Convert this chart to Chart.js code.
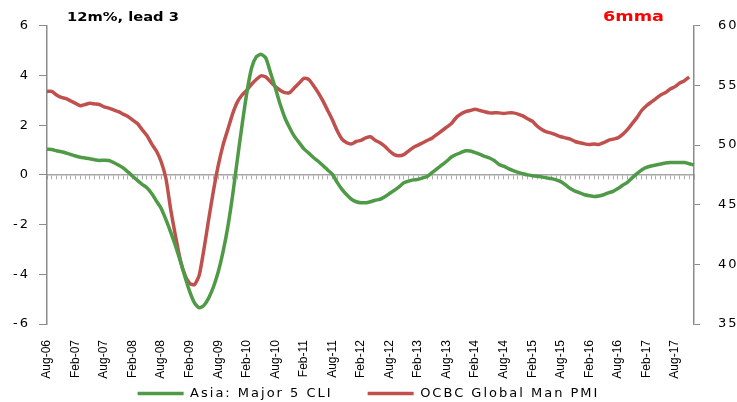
<!DOCTYPE html>
<html>
<head>
<meta charset="utf-8">
<script src="https://cdn.jsdelivr.net/npm/chart.js@4/dist/chart.umd.min.js"></script>
<style>
  html, body { margin: 0; padding: 0; background: #fff; }
  #wrap { position: relative; width: 737px; height: 402px; overflow: hidden; }
  .note { position: absolute; font-family: "DejaVu Sans", Verdana, sans-serif; font-weight: bold; white-space: nowrap; transform-origin: 0 0; }
  #lead { left: 67px; top: 9px; font-size: 13px; transform: scaleX(1.13); color: #000; }
  #mma { left: 603px; top: 8px; font-size: 14px; transform: scaleX(1.26); color: #ff0000; }
</style>
</head>
<body>
<div id="wrap">
  <canvas id="chart" width="737" height="402"></canvas>
  <div class="note" id="lead">12m%, lead 3</div>
  <div class="note" id="mma">6mma</div>
</div>
<script>
// months Aug-06 .. Dec-17
const monthNames = ['Jan','Feb','Mar','Apr','May','Jun','Jul','Aug','Sep','Oct','Nov','Dec'];
const categories = [];
for (let i = 0; i < 137; i++) {
  const m = (7 + i) % 12;
  const yr = 6 + Math.floor((7 + i) / 12);
  categories.push(monthNames[m] + '-' + String(yr).padStart(2, '0'));
}

const xTickLabels = ['Aug-06','Feb-07','Aug-07','Feb-08','Aug-08','Feb-09','Aug-09','Feb-10','Aug-10',
  'Feb-11','Aug-11','Feb-12','Aug-12','Feb-13','Aug-13','Feb-14','Aug-14','Feb-15','Aug-15',
  'Feb-16','Aug-16','Feb-17','Aug-17'];

// Asia: Major 5 CLI (left axis)
const asiaCli = [
  1.03, 1.02, 0.97, 0.93, 0.88, 0.82, 0.76, 0.71, 0.68, 0.65,
  0.61, 0.58, 0.59, 0.58, 0.50, 0.40, 0.28, 0.12, -0.05, -0.22,
  -0.38, -0.52, -0.75, -1.05, -1.35, -1.8, -2.3, -2.85, -3.45, -4.1,
  -4.7, -5.15, -5.35, -5.25, -4.95, -4.5, -3.9, -3.1, -2.1, -0.85,
  0.6, 2.0, 3.3, 4.3, 4.75, 4.85, 4.7, 4.1, 3.5, 2.85,
  2.3, 1.9, 1.55, 1.3, 1.05, 0.88, 0.7, 0.55, 0.38, 0.2,
  0.02, -0.3, -0.58, -0.8, -0.98, -1.08, -1.12, -1.12, -1.08, -1.02,
  -0.98, -0.88, -0.75, -0.62, -0.48, -0.32, -0.25, -0.2, -0.18, -0.12,
  -0.05, 0.1, 0.25, 0.4, 0.55, 0.72, 0.82, 0.9, 0.97, 0.96,
  0.9, 0.83, 0.75, 0.68, 0.58, 0.42, 0.35, 0.25, 0.17, 0.1,
  0.05, 0.0, -0.03, -0.05, -0.08, -0.12, -0.15, -0.2, -0.27, -0.4,
  -0.55, -0.65, -0.72, -0.8, -0.84, -0.87, -0.85, -0.8, -0.72, -0.66,
  -0.55, -0.42, -0.3, -0.12, 0.05, 0.2, 0.3, 0.36, 0.4, 0.44,
  0.48, 0.5, 0.5, 0.5, 0.5, 0.45, 0.4
];

// OCBC Global Man PMI (right axis)
const ocbcPmi = [
  54.5, 54.5, 54.2, 54.0, 53.9, 53.7, 53.5, 53.3, 53.4, 53.5,
  53.45, 53.4, 53.2, 53.1, 52.95, 52.8, 52.6, 52.4, 52.1, 51.8,
  51.3, 50.8, 50.1, 49.5, 48.6, 47.2, 44.6, 42.4, 40.4, 39.1,
  38.4, 38.3, 39.1, 41.3, 43.8, 46.2, 48.3, 50.0, 51.3, 52.6,
  53.6, 54.2, 54.6, 55.1, 55.5, 55.8, 55.7, 55.3, 54.9, 54.6,
  54.4, 54.4, 54.8, 55.2, 55.6, 55.5, 55.0, 54.4, 53.7, 52.9,
  52.1, 51.2, 50.5, 50.2, 50.1, 50.3, 50.4, 50.6, 50.7, 50.4,
  50.2, 49.9, 49.5, 49.2, 49.1, 49.2, 49.5, 49.8, 50.0, 50.2,
  50.4, 50.6, 50.9, 51.2, 51.5, 51.8, 52.3, 52.6, 52.8, 52.9,
  53.0, 52.9, 52.8, 52.7, 52.7, 52.7, 52.65, 52.7, 52.7, 52.6,
  52.45, 52.2, 52.0, 51.6, 51.3, 51.1, 51.0, 50.85, 50.7, 50.6,
  50.5, 50.3, 50.2, 50.1, 50.05, 50.1, 50.05, 50.2, 50.4, 50.5,
  50.6, 50.9, 51.3, 51.8, 52.3, 52.9, 53.3, 53.6, 53.9, 54.2,
  54.4, 54.7, 54.9, 55.2, 55.4, 55.7, null
];

const axisGrey = '#8c8c8c';
const txtFont = '"DejaVu Sans", Verdana, sans-serif';

// spread letters of axis numbers and legend like the original rendering,
// month labels (drawn after the lines, z: 1) go back to normal spacing,
// and they may run below the short x axis box
const tweaks = {
  id: 'tweaks',
  beforeUpdate(chart) { chart.ctx.letterSpacing = '2px'; },
  afterLayout(chart) { chart.scales.x.bottom = chart.height; },
  beforeDraw(chart) { chart.ctx.letterSpacing = '2px'; },
  afterDatasetsDraw(chart) { chart.ctx.letterSpacing = '0px'; }
};

new Chart(document.getElementById('chart'), {
  type: 'line',
  data: {
    labels: categories,
    datasets: [{
      label: 'Asia: Major 5 CLI',
      data: asiaCli,
      yAxisID: 'y',
      borderColor: '#4e9a47',
      backgroundColor: '#4e9a47',
      borderWidth: 3.5,
      pointRadius: 0,
      pointStyle: 'line',
      tension: 0.2
    }, {
      label: 'OCBC Global Man PMI',
      data: ocbcPmi,
      yAxisID: 'y2',
      borderColor: '#c0504d',
      backgroundColor: '#c0504d',
      borderWidth: 3.5,
      pointRadius: 0,
      pointStyle: 'line',
      tension: 0.2
    }]
  },
  options: {
    responsive: false,
    animation: false,
    devicePixelRatio: 1,
    layout: { padding: { top: 10, left: 0, right: 0, bottom: -8 } },
    plugins: {
      tooltip: { enabled: false },
      legend: {
        position: 'bottom',
        labels: {
          usePointStyle: true,
          pointStyleWidth: 46,
          padding: 35,
          color: '#000',
          font: { family: txtFont, size: 13 }
        }
      }
    },
    scales: {
      x: {
        grid: { display: false },
        border: { display: false },
        ticks: {
          z: 1,
          autoSkip: false,
          maxRotation: 90,
          minRotation: 90,
          padding: 8,
          color: '#000',
          font: { family: '"Liberation Sans", Arial, sans-serif', size: 12 },
          callback: function (v, i) {
            const lab = categories[i];
            return xTickLabels.includes(lab) ? lab : '';
          }
        },
        afterFit: s => { s.height = 28; }
      },
      xZero: {
        type: 'category',
        position: { y: 0 },
        grid: { display: true, drawOnChartArea: false, tickLength: 4, color: '#b0b0b0', lineWidth: 1 },
        border: { display: true, color: '#a6a6a6', width: 1.5 },
        ticks: { display: false, autoSkip: false }
      },
      y: {
        position: 'left',
        min: -6,
        max: 6,
        grid: { display: true, drawOnChartArea: false, tickLength: 8, color: axisGrey },
        border: { display: true, color: axisGrey, width: 1.5 },
        ticks: { stepSize: 2, padding: 9, color: '#000', font: { family: txtFont, size: 13 } },
        afterFit: s => { s.width = 47; }
      },
      y2: {
        position: 'right',
        min: 35,
        max: 60,
        grid: { display: true, drawOnChartArea: false, tickLength: 6, color: axisGrey },
        border: { display: true, color: axisGrey, width: 1.5 },
        ticks: { stepSize: 5, padding: 18, color: '#000', font: { family: txtFont, size: 13 } },
        afterFit: s => { s.width = 43; }
      }
    }
  },
  plugins: [tweaks]
});
</script>
</body>
</html>
